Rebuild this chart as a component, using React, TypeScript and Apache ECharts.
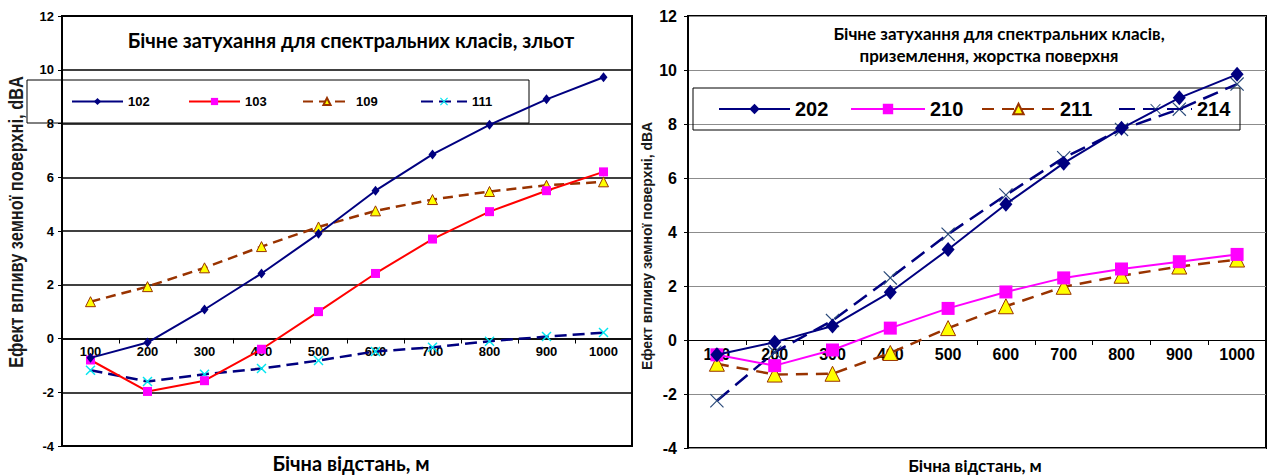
import React, { useEffect, useRef } from "react";
import * as echarts from "echarts";

const categories = ["100", "200", "300", "400", "500", "600", "700", "800", "900", "1000"];
const yTicks = { min: -4, max: 12, interval: 2 };

// Left chart: зльот
const s102 = [-0.72, -0.15, 1.08, 2.42, 3.9, 5.5, 6.85, 7.95, 8.9, 9.72];
const s103 = [-0.8, -1.97, -1.57, -0.4, 1.0, 2.42, 3.7, 4.72, 5.5, 6.2];
const s109 = [1.37, 1.93, 2.63, 3.42, 4.15, 4.75, 5.17, 5.47, 5.7, 5.83];
const s111 = [-1.18, -1.6, -1.33, -1.12, -0.82, -0.48, -0.33, -0.1, 0.07, 0.22];

// Right chart: приземлення, жорстка поверхня
const s202 = [-0.55, -0.08, 0.52, 1.77, 3.35, 5.03, 6.55, 7.84, 8.97, 9.84];
const s210 = [-0.55, -0.95, -0.37, 0.44, 1.17, 1.78, 2.3, 2.63, 2.9, 3.17];
const s211 = [-0.88, -1.28, -1.25, -0.48, 0.44, 1.25, 1.97, 2.38, 2.72, 2.98];
const s214 = [-2.25, -0.45, 0.72, 2.3, 3.92, 5.37, 6.75, 7.8, 8.55, 9.48];

const leftTitle = "Бічне затухання для спектральних класів, зльот";
const rightTitle1 = "Бічне затухання для спектральних класів,";
const rightTitle2 = "приземлення, жорстка поверхня";
const yTitle = "Ефект впливу земної поверхні, dBA";
const xTitle = "Бічна відстань, м";

const NAVY = "#000080";
const RED = "#FF0000";
const MAGENTA = "#FF00FF";
const BROWN = "#993300";
const YELLOW = "#FFFF00";
const CYAN = "#00E5F0";

const XMARK = "path://M0,1L1,0L5,4L9,0L10,1L6,5L10,9L9,10L5,6L1,10L0,9L4,5Z";
const XMARK_THIN = "path://M0,0.6L0.6,0L5,4.4L9.4,0L10,0.6L5.6,5L10,9.4L9.4,10L5,5.6L0.6,10L0,9.4L4.4,5Z";

const TICK_FONT = "'Liberation Sans', Arial, sans-serif";
const TITLE_FONT = "Lato, 'Noto Sans', sans-serif";

const LEFT_GRID = { left: 62, top: 16, width: 570, height: 430 };
const RIGHT_GRID = { left: 688, top: 16, width: 578, height: 432 };

export default function App() {
  const ref = useRef<HTMLDivElement>(null);

  useEffect(() => {
    if (!ref.current) return;
    const chart = echarts.init(ref.current, null, { renderer: "svg" });

    // distance (px) from grid bottom (value = min) up to value 0
    const zeroOffset = (h: number) => (h * (0 - yTicks.min)) / (yTicks.max - yTicks.min);

    const makeX = (gridIndex: number, fontSize: number, lineColor: string, lineWidth: number, gridH: number) => ({
      type: "category",
      gridIndex,
      data: categories,
      boundaryGap: true,
      position: "bottom",
      offset: -zeroOffset(gridH),
      axisLine: { onZero: false, lineStyle: { color: lineColor, width: lineWidth } },
      axisTick: { show: true, length: 5, lineStyle: { color: "#000" } },
      axisLabel: {
        interval: 0,
        margin: 6,
        color: "#000",
        fontFamily: TICK_FONT,
        fontWeight: "bold",
        fontSize,
      },
      splitLine: { show: false },
    });

    const makeY = (gridIndex: number, fontSize: number, gridColor: string, gridWidth: number, margin: number) => ({
      type: "value",
      gridIndex,
      min: yTicks.min,
      max: yTicks.max,
      interval: yTicks.interval,
      axisLine: { show: true, lineStyle: { color: "#000", width: 2 } },
      axisTick: { show: true, length: 4, lineStyle: { color: "#000" } },
      axisLabel: {
        margin,
        color: "#000",
        fontFamily: TICK_FONT,
        fontWeight: "bold",
        fontSize,
      },
      splitLine: { show: true, lineStyle: { color: gridColor, width: gridWidth } },
    });

    const legendItem = (name: string, left: number, top: number, itemWidth: number, itemHeight: number, fontSize: number) => ({
      data: [name],
      left,
      top,
      padding: 0,
      itemWidth,
      itemHeight,
      selectedMode: false,
      textStyle: { color: "#000", fontFamily: TICK_FONT, fontWeight: "bold", fontSize },
    });

    const option: any = {
      animation: false,
      backgroundColor: "#fff",
      grid: [
        { ...LEFT_GRID, show: true, borderColor: "#000", borderWidth: 2, backgroundColor: "transparent" },
        { ...RIGHT_GRID, show: true, borderColor: "#000", borderWidth: 2, backgroundColor: "transparent" },
      ],
      xAxis: [makeX(0, 13, "#000", 1.5, LEFT_GRID.height), makeX(1, 16, "#000", 1, RIGHT_GRID.height)],
      yAxis: [makeY(0, 13, "#000", 1.5, 8), makeY(1, 16, "#8c8c8c", 1, 11)],
      legend: [
        legendItem("102", 71, 95, 51, 9, 13),
        legendItem("103", 188, 95, 51, 9, 13),
        legendItem("109", 302, 95, 48, 9, 13),
        legendItem("111", 420, 95, 46, 10, 13),
        legendItem("202", 718, 99, 71, 13, 20),
        legendItem("210", 850, 99, 74, 13, 20),
        legendItem("211", 981, 99, 73, 13, 20),
        legendItem("214", 1118, 99, 73, 13, 20),
      ],
      series: [
        {
          name: "102", type: "line", xAxisIndex: 0, yAxisIndex: 0, data: s102,
          symbol: "diamond", symbolSize: [8, 10],
          lineStyle: { color: NAVY, width: 2 }, itemStyle: { color: NAVY }, z: 5,
        },
        {
          name: "103", type: "line", xAxisIndex: 0, yAxisIndex: 0, data: s103,
          symbol: "rect", symbolSize: 9,
          lineStyle: { color: RED, width: 2 }, itemStyle: { color: MAGENTA }, z: 4,
        },
        {
          name: "109", type: "line", xAxisIndex: 0, yAxisIndex: 0, data: s109,
          symbol: "triangle", symbolSize: 10,
          lineStyle: { color: BROWN, width: 2.5, type: [10, 6] }, itemStyle: { color: YELLOW, borderColor: BROWN, borderWidth: 1 }, z: 3,
        },
        {
          name: "111", type: "line", xAxisIndex: 0, yAxisIndex: 0, data: s111,
          symbol: XMARK, symbolSize: 10,
          lineStyle: { color: NAVY, width: 2.5, type: [12, 6] }, itemStyle: { color: CYAN }, z: 3,
        },
        {
          name: "202", type: "line", xAxisIndex: 1, yAxisIndex: 1, data: s202,
          symbol: "diamond", symbolSize: [13, 15],
          lineStyle: { color: NAVY, width: 2 }, itemStyle: { color: NAVY }, z: 5,
        },
        {
          name: "210", type: "line", xAxisIndex: 1, yAxisIndex: 1, data: s210,
          symbol: "rect", symbolSize: 13,
          lineStyle: { color: MAGENTA, width: 2 }, itemStyle: { color: MAGENTA }, z: 4,
        },
        {
          name: "211", type: "line", xAxisIndex: 1, yAxisIndex: 1, data: s211,
          symbol: "triangle", symbolSize: 15,
          lineStyle: { color: BROWN, width: 2.5, type: [12, 8] }, itemStyle: { color: YELLOW, borderColor: BROWN, borderWidth: 1 }, z: 3,
        },
        {
          name: "214", type: "line", xAxisIndex: 1, yAxisIndex: 1, data: s214,
          symbol: XMARK_THIN, symbolSize: 14,
          lineStyle: { color: NAVY, width: 2.5, type: [16, 8] }, itemStyle: { color: "#2a4a7a" }, z: 3,
        },
      ],
      graphic: [
        // legend frames
        { type: "rect", shape: { x: 27, y: 80, width: 502, height: 43 }, style: { fill: "none", stroke: "#000", lineWidth: 1 }, z: 1 },
        { type: "rect", shape: { x: 693, y: 88, width: 547, height: 42 }, style: { fill: "none", stroke: "#000", lineWidth: 1 }, z: 1 },
        // titles
        { type: "text", x: 351, y: 40, style: { text: leftTitle, align: "center", verticalAlign: "middle", font: `bold 20px ${TITLE_FONT}`, fill: "#000" }, z: 10 },
        { type: "text", x: 999, y: 33, style: { text: rightTitle1, align: "center", verticalAlign: "middle", font: `bold 17px ${TITLE_FONT}`, fill: "#000" }, z: 10 },
        { type: "text", x: 989, y: 55, style: { text: rightTitle2, align: "center", verticalAlign: "middle", font: `bold 17px ${TITLE_FONT}`, fill: "#000" }, z: 10 },
        // axis titles
        { type: "text", x: 351, y: 463, style: { text: xTitle, align: "center", verticalAlign: "middle", font: `bold 20px ${TITLE_FONT}`, fill: "#000" }, z: 10 },
        { type: "text", x: 975, y: 465, style: { text: xTitle, align: "center", verticalAlign: "middle", font: `bold 17px ${TITLE_FONT}`, fill: "#000" }, z: 10 },
        { type: "text", x: 16, y: 222, rotation: Math.PI / 2, scaleX: 0.82, style: { text: yTitle, align: "center", verticalAlign: "middle", font: `bold 20px ${TICK_FONT}`, fill: "#1a1a1a" }, z: 10 },
        { type: "text", x: 647, y: 246, rotation: Math.PI / 2, scaleX: 0.93, style: { text: yTitle, align: "center", verticalAlign: "middle", font: `bold 15px ${TICK_FONT}`, fill: "#1a1a1a" }, z: 10 },
      ],
    };

    chart.setOption(option);
    return () => chart.dispose();
  }, []);

  return (
    <div
      ref={ref}
      style={{ position: "fixed", left: 0, top: 0, width: 1270, height: 475, background: "#fff" }}
    />
  );
}
